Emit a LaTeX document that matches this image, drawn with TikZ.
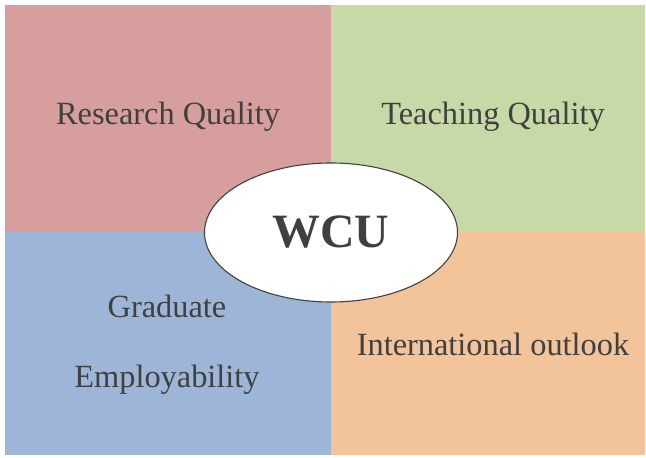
\documentclass[tikz,border=0pt]{standalone}
\usepackage{fontspec}
\setmainfont{Liberation Serif}
\usepackage{xcolor}
\usepackage{tikz}
\usetikzlibrary{shapes.geometric}
\definecolor{redq}{HTML}{D69F9E}
\definecolor{greenq}{HTML}{C6D9A6}
\definecolor{blueq}{HTML}{9DB6D7}
\definecolor{orangeq}{HTML}{F3C39A}
\definecolor{txtgray}{HTML}{404040}
\tikzset{
  lbl/.style={anchor=base,text=txtgray,inner sep=0pt,font=\fontsize{32.5}{38}\selectfont},
  core/.style={ellipse,draw=txtgray,line width=1.1pt,fill=white,minimum width=253bp,minimum height=139bp,inner sep=0pt}
}

\begin{document}
\begin{tikzpicture}[x=1bp,y=-1bp]
\useasboundingbox (0,0) rectangle (646,458);
% four quadrants
\fill[redq] (5,5) rectangle (331,232);
\fill[greenq] (331,5) rectangle (645,232);
\fill[blueq] (5,232) rectangle (331,455);
\fill[orangeq] (331,232) rectangle (645,455);
\node[lbl] (rq) at (168,125) {Research Quality};
\node[lbl] (tq) at (493,125) {Teaching Quality};
\node[lbl] (gr) at (167,318) {Graduate};
\node[lbl] (em) at (167,387) {Employability};
\node[lbl] (io) at (493,355) {International outlook};
% centre
\node[core] (wcu) at (331,232.5) {};
\node[anchor=base,text=txtgray,inner sep=0pt,font=\fontsize{48}{56}\selectfont\bfseries] (wcut) at (331,248) {WCU};
\end{tikzpicture}
\end{document}
